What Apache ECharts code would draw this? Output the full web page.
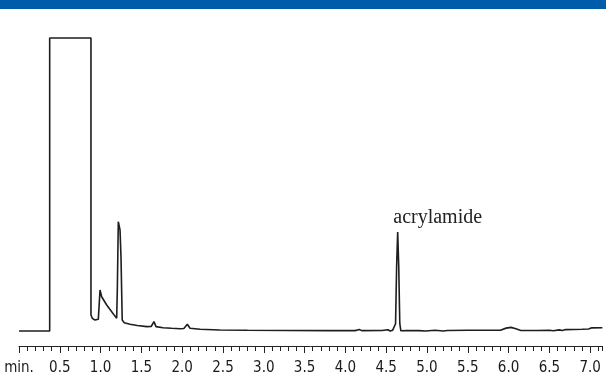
<!DOCTYPE html>
<html>
<head>
<meta charset="utf-8">
<script src="https://cdn.jsdelivr.net/npm/echarts@6/dist/echarts.min.js"></script>
<style>
  html, body { margin: 0; padding: 0; background: #fff; }
  #chart { width: 606px; height: 377px; }
</style>
</head>
<body>
<div id="chart"></div>
<script>
// retention time (min) and detector signal (relative units, 100 = off scale)
const times = [0, 0.376, 0.376, 0.882, 0.882, 0.898, 0.931, 0.972, 0.993, 1.013,
    1.075, 1.136, 1.176, 1.197, 1.205, 1.217, 1.229, 1.238, 1.25, 1.265,
    1.29, 1.36, 1.45, 1.565, 1.62, 1.654, 1.679, 1.765, 1.87, 1.975,
    2.02, 2.063, 2.096, 2.22, 2.46, 2.8, 3.3, 3.8, 4.12, 4.17,
    4.2, 4.45, 4.52, 4.55, 4.58, 4.6, 4.615, 4.628, 4.641, 4.654,
    4.667, 4.68, 4.75, 4.9, 4.98, 5.02, 5.1, 5.2, 5.25, 5.5,
    5.9, 5.97, 6.03, 6.09, 6.15, 6.35, 6.5, 6.55, 6.62, 6.66,
    6.7, 6.9, 6.98, 7.02, 7.15];
const signal = [0, 0, 100, 100, 5.5, 4.35, 3.77, 4.0, 14.0, 11.7,
    8.9, 6.6, 5.1, 4.35, 14.0, 37.3, 37.3, 34.5, 25.4, 3.77,
    2.85, 2.3, 1.9, 1.5, 1.55, 3.2, 1.5, 1.15, 0.95, 0.8,
    0.85, 2.3, 0.95, 0.6, 0.35, 0.25, 0.2, 0.15, 0.15, 0.5,
    0.15, 0.2, 0.45, 0.0, 0.3, 0.2, 2.5, 22, 33.8, 22,
    2.5, 0.1, 0.15, 0.15, 0.0, 0.1, 0.25, 0.0, 0.2, 0.25,
    0.3, 1.0, 1.25, 0.8, 0.2, 0.2, 0.3, 0.1, 0.4, 0.2,
    0.5, 0.6, 0.7, 1.1, 1.15];

const peakNames = ['acrylamide'];
const peakTimes = [4.641];
const peakHeights = [33.8];

const xMin = 0, xMax = 7.15;
const axisFont = "'Liberation Sans Narrow', 'DejaVu Sans Condensed', 'Arial Narrow', sans-serif";

const chart = echarts.init(document.getElementById('chart'), null, { renderer: 'canvas' });

const isHalf = v => Math.abs(v * 2 - Math.round(v * 2)) < 1e-6;

const option = {
    animation: false,
    backgroundColor: '#fff',
    graphic: [{
        type: 'rect',
        shape: { x: 0, y: 0, width: 606, height: 9 },
        style: { fill: '#005BAA' }
    }],
    grid: { left: 19, right: 3.6, top: 38, bottom: 31 },
    xAxis: [
        {
            type: 'value', min: xMin, max: xMax, interval: 0.5,
            position: 'bottom',
            axisLine: { show: true, onZero: false, lineStyle: { color: '#222', width: 1 } },
            axisTick: { show: true, length: 7, lineStyle: { color: '#222', width: 1 } },
            splitLine: { show: false },
            axisLabel: {
                margin: 15,
                fontFamily: axisFont,
                fontSize: 15,
                color: '#1a1a1a',
                showMaxLabel: false,
                formatter: v => {
                    if (!isHalf(v) || v > 7.05) return '';
                    return v === 0 ? 'min.' : v.toFixed(1);
                }
            }
        },
        {
            type: 'value', min: xMin, max: xMax, interval: 0.1,
            position: 'bottom',
            axisLine: { show: false, onZero: false },
            axisTick: { show: true, length: 5, lineStyle: { color: '#222', width: 1 } },
            axisLabel: { show: false },
            splitLine: { show: false }
        }
    ],
    yAxis: {
        type: 'value', min: -5.1, max: 100,
        show: false,
        splitLine: { show: false }
    },
    series: [{
        type: 'line',
        xAxisIndex: 0,
        data: times.map((t, i) => [t, signal[i]]),
        showSymbol: false,
        symbol: 'none',
        clip: false,
        lineStyle: { color: '#1e1e1e', width: 1.6 },
        markPoint: {
            symbol: 'circle',
            symbolSize: 0,
            label: {
                show: true,
                position: 'top',
                distance: 4,
                offset: [40, 0],
                fontFamily: "'Liberation Serif', 'DejaVu Serif', serif",
                fontSize: 20,
                color: '#222',
                formatter: p => p.name
            },
            data: peakNames.map((n, i) => ({ name: n, coord: [peakTimes[i], peakHeights[i]] }))
        }
    }]
};

chart.setOption(option);
</script>
</body>
</html>
